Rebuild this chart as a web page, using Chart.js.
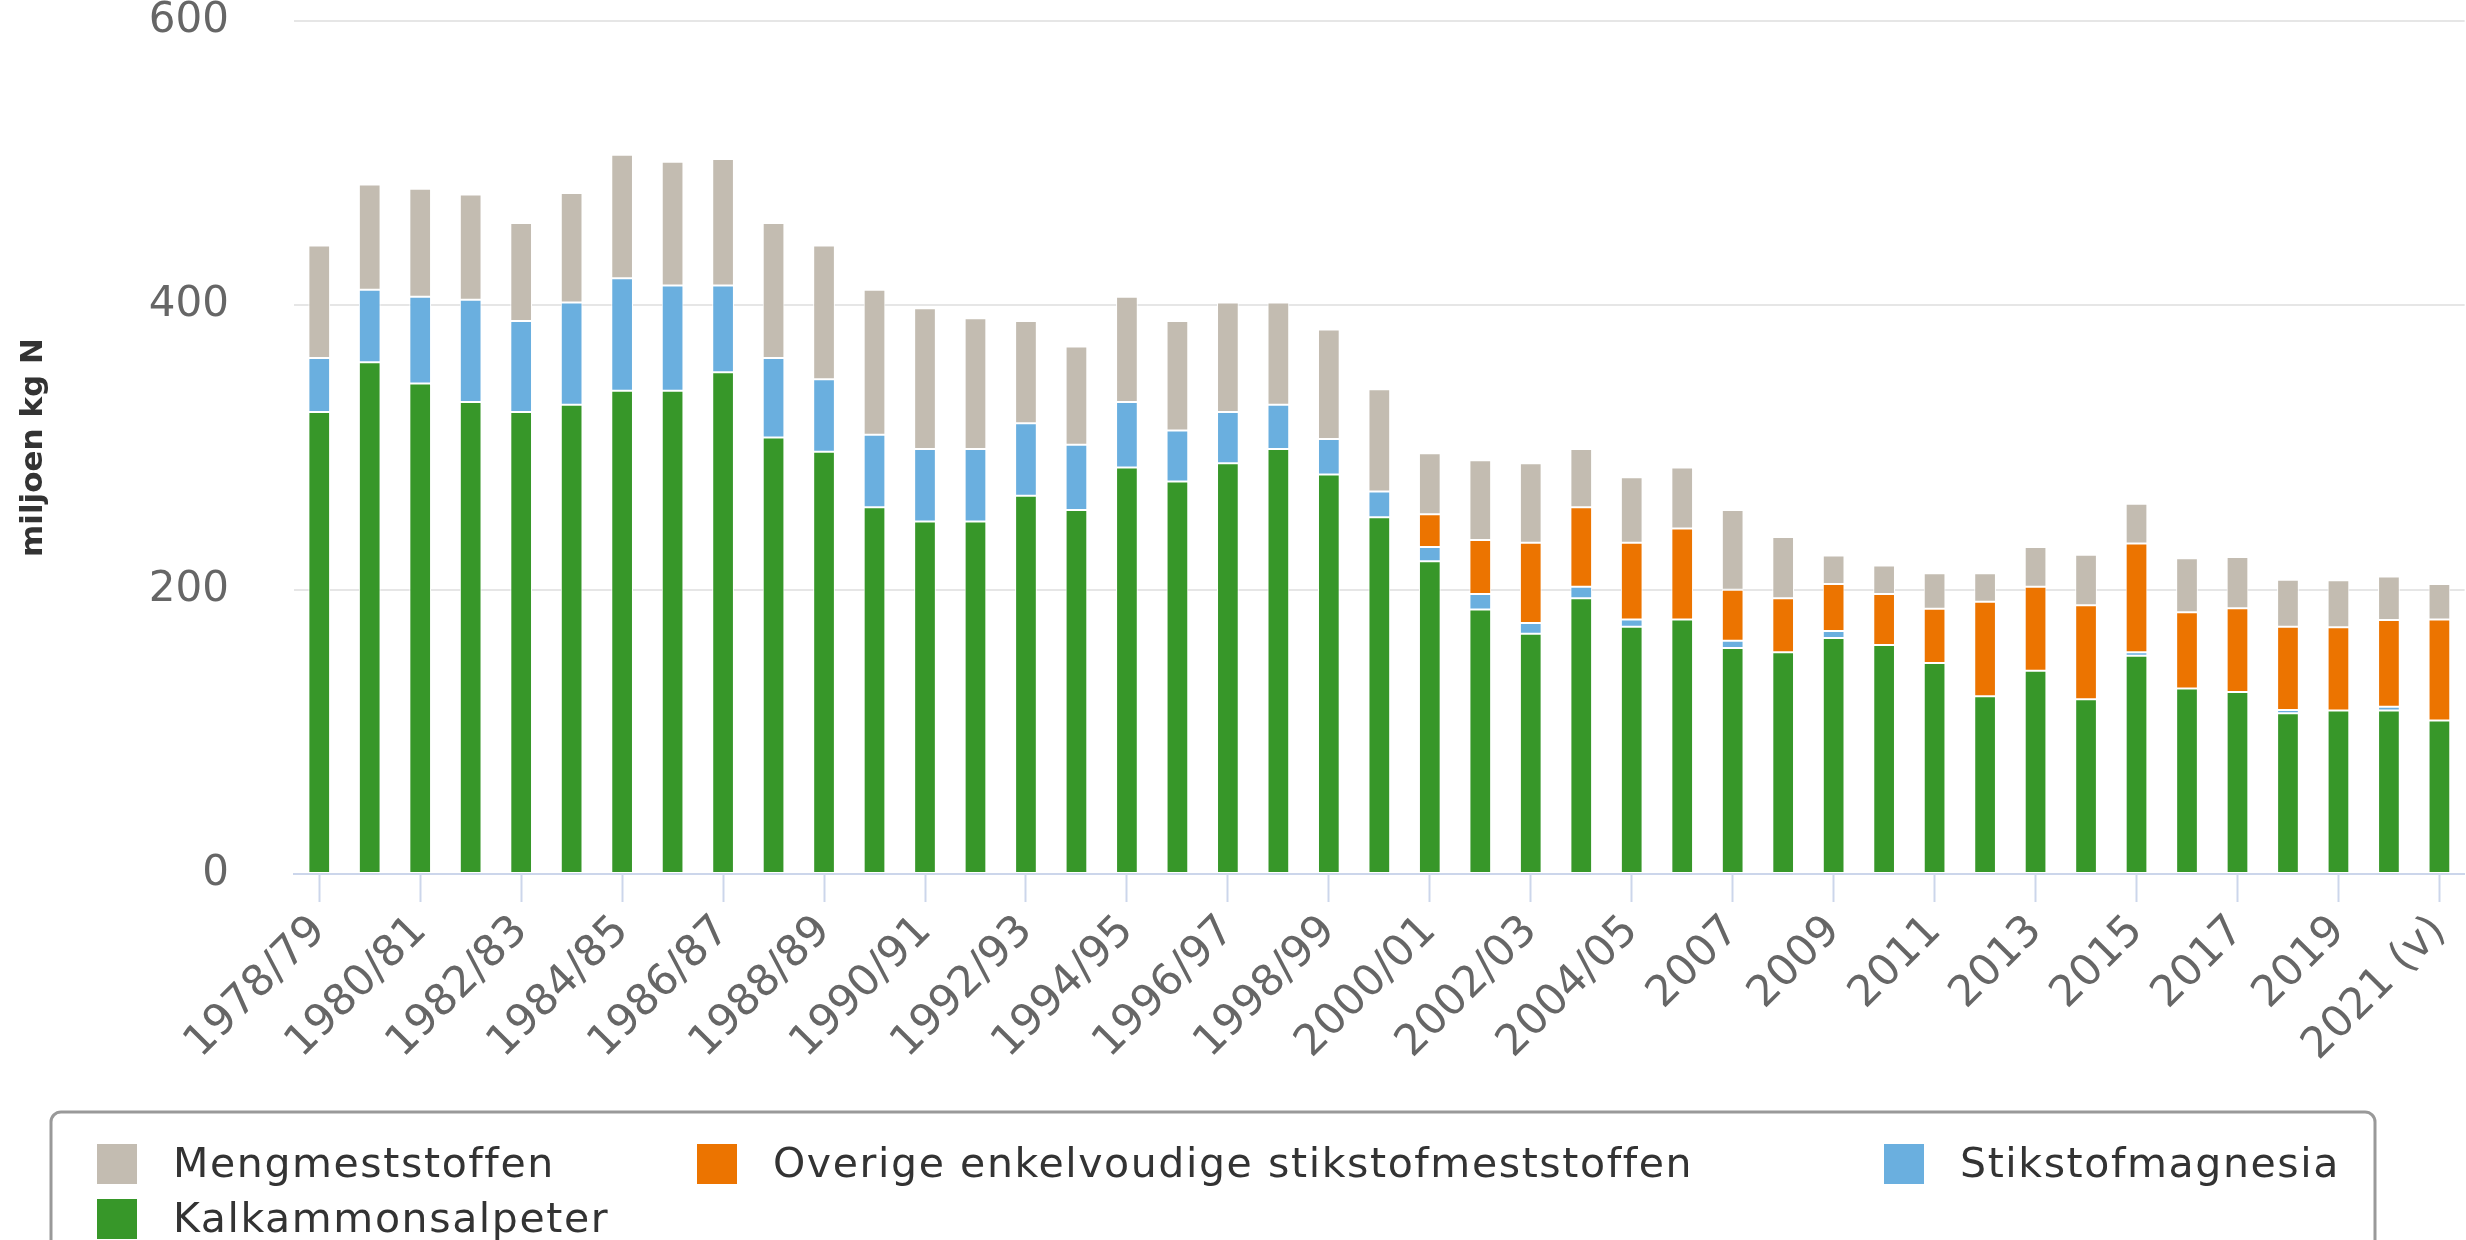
<!DOCTYPE html>
<html><head><meta charset="utf-8">
<script src="https://cdn.jsdelivr.net/npm/chart.js@4"></script>
<style>
html,body{margin:0;padding:0;background:#fff;overflow:hidden;}
#wrap{position:relative;width:2480px;height:1240px;}
</style></head><body>
<div id="wrap"><canvas id="c" width="2480" height="1240"></canvas></div>
<script>
const categories = ["1978/79","1979/80","1980/81","1981/82","1982/83","1983/84","1984/85","1985/86","1986/87","1987/88","1988/89","1989/90","1990/91","1991/92","1992/93","1993/94","1994/95","1995/96","1996/97","1997/98","1998/99","1999/00","2000/01","2001/02","2002/03","2003/04","2004/05","2005/06","2007","2008","2009","2010","2011","2012","2013","2014","2015","2016","2017","2018","2019","2020","2021 (v)"];
const kalkammonsalpeter = [325,360,345,332,325,330,340,340,353,307,297,258,248,248,266,256,286,276,289,299,281,251,220,186,169,194,174,179,159,156,166,161,148.5,125,143,123,153.6,130.5,128,113,115,115,108];
const stikstofmagnesia = [38,51,61,72,64,72,79,74,61,56,51,51,51,51,51,46,46,36,36,31,25,18,10,11,7.5,8,5,null,5,null,5,null,null,null,null,null,2.3,null,null,2.4,null,2.7,null];
const overige = [null,null,null,null,null,null,null,null,null,null,null,null,null,null,null,null,null,null,null,null,null,null,23,38,56.5,56,54,64,36,38,33,36,38,66.5,59,66,76.6,53.6,59,58.6,58.6,61,71];
const mengmeststoffen = [79,74,76,74,69,77,87,87,89,95,94,102,99,92,72,69,74,77,77,72,77,72,43,56,56,41,46,43,56,43,20,20,25,20,28,35.5,28,38,36,33,33,30.5,25];
const yTickValues = [0,200,400,600];
const seriesNames = ["Kalkammonsalpeter","Stikstofmagnesia","Overige enkelvoudige stikstofmeststoffen","Mengmeststoffen"];
const seriesColors = ["#379729","#6aafdf","#ec7400","#c3bcb1"];
const yTitle = "miljoen kg N";

const FONT = "'DejaVu Sans', sans-serif";

const legendPlugin = {
  id: 'boxLegend',
  afterDraw(chart) {
    const ctx = chart.ctx;
    const box = {x: 51, y: 1112, w: 2324, h: 200, r: 10};
    const cols = [97, 697, 1884];
    const rows = [1164, 1219];
    const sym = 40, gap = 36;
    ctx.save();
    ctx.strokeStyle = '#999999';
    ctx.lineWidth = 3;
    ctx.beginPath();
    ctx.roundRect(box.x, box.y, box.w, box.h, box.r);
    ctx.stroke();
    const items = chart.data.datasets.map((d,i)=>({label:d.label,color:d.backgroundColor})).reverse();
    ctx.font = "41px " + FONT;
    ctx.letterSpacing = "1.6px";
    ctx.textBaseline = 'middle';
    items.forEach((it, i) => {
      const col = i % 3, row = Math.floor(i / 3);
      const x = cols[col], y = rows[row];
      ctx.fillStyle = it.color;
      ctx.fillRect(x, y - sym/2, sym, sym);
      ctx.fillStyle = '#333333';
      ctx.fillText(it.label, x + sym + gap, y + 2);
    });
    ctx.restore();
  }
};

const data = {
  labels: categories,
  datasets: [kalkammonsalpeter, stikstofmagnesia, overige, mengmeststoffen].map((vals, i) => ({
    label: seriesNames[i],
    data: vals,
    backgroundColor: seriesColors[i],
    borderColor: '#ffffff',
    borderWidth: 1,
    borderSkipped: false,
    categoryPercentage: 1,
    barPercentage: 0.43
  }))
};

new Chart(document.getElementById('c'), {
  type: 'bar',
  data,
  plugins: [legendPlugin],
  options: {
    responsive: false,
    animation: false,
    devicePixelRatio: 1,
    layout: {padding: {top: 21, right: 9, bottom: 166, left: 0}},
    plugins: {legend: {display: false}, tooltip: {enabled: false}},
    scales: {
      x: {
        stacked: true,
        afterFit: s => { s.height = 200; },
        grid: {
          display: true,
          drawOnChartArea: false,
          offset: false,
          drawTicks: true,
          tickLength: 28,
          tickWidth: 2,
          tickColor: c => (c.index % 2 === 0 ? '#ccd6eb' : 'rgba(0,0,0,0)')
        },
        border: {display: true, color: '#ccd6eb', width: 2},
        ticks: {
          autoSkip: false,
          maxRotation: 45,
          minRotation: 45,
          padding: 4,
          color: '#666666',
          font: {family: FONT, size: 43},
          callback: function(v, i) { return i % 2 === 0 ? this.getLabelForValue(v) : ''; }
        }
      },
      y: {
        stacked: true,
        min: 0, max: 600,
        afterFit: s => { s.width = 294; s.paddingTop = 0; s.paddingBottom = 0; },
        afterBuildTicks: s => { s.ticks = yTickValues.map(v => ({value: v})); },
        grid: {color: '#e6e6e6', lineWidth: 2, drawTicks: false},
        border: {display: false},
        ticks: {
          padding: 65,
          color: '#666666',
          font: {family: FONT, size: 42}
        },
        title: {
          display: true,
          text: yTitle,
          color: '#333333',
          font: {family: FONT, size: 31, weight: 'bold'},
          padding: {top: 15, bottom: 0}
        }
      }
    }
  }
});
</script>
</body></html>
